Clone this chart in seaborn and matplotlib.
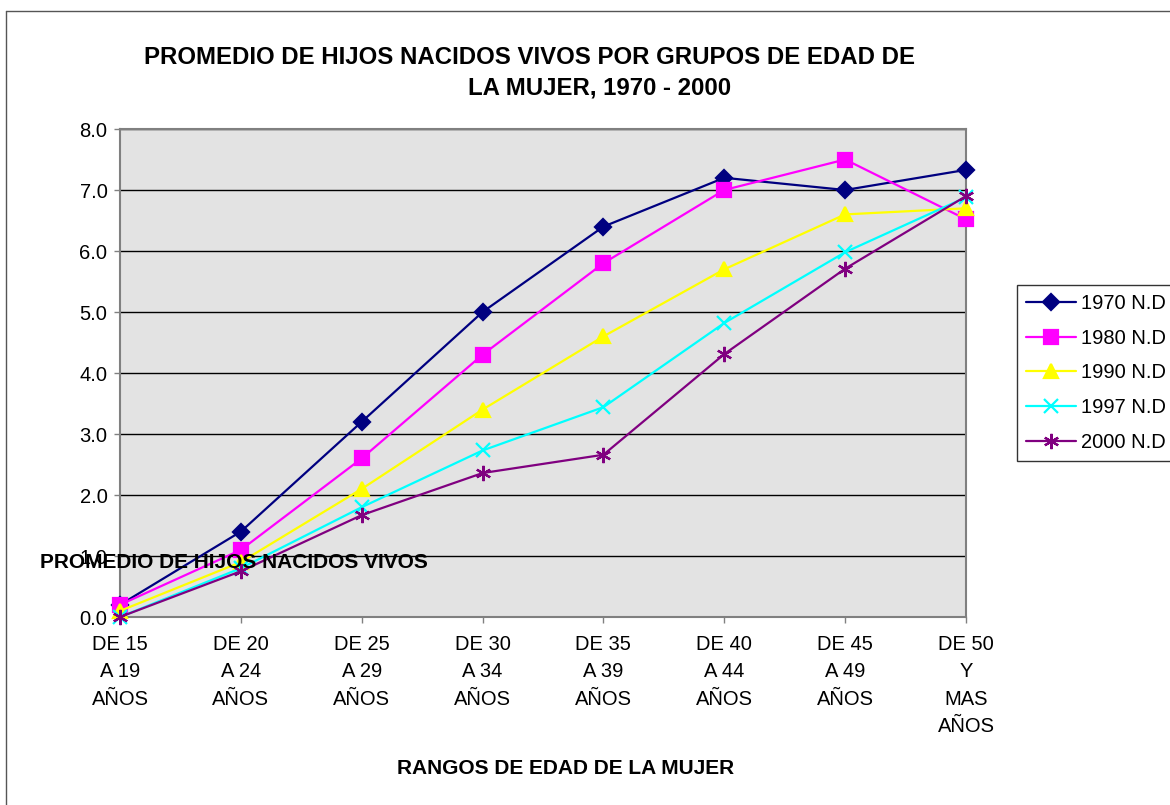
import matplotlib
matplotlib.use("Agg")
import matplotlib.pyplot as plt
import seaborn as sns
import pandas as pd
from matplotlib.lines import Line2D

# categorias (rangos de edad)
grupos = ["DE 15\nA 19\nAÑOS", "DE 20\nA 24\nAÑOS", "DE 25\nA 29\nAÑOS", "DE 30\nA 34\nAÑOS",
          "DE 35\nA 39\nAÑOS", "DE 40\nA 44\nAÑOS", "DE 45\nA 49\nAÑOS", "DE 50\nY\nMAS\nAÑOS"]

v1970 = [0.2, 1.4, 3.2, 5.0, 6.4, 7.2, 7.0, 7.33]
v1980 = [0.2, 1.1, 2.6, 4.3, 5.8, 7.0, 7.5, 6.52]
v1990 = [0.1, 0.9, 2.1, 3.4, 4.6, 5.7, 6.6, 6.7]
v1997 = [0.0, 0.8, 1.8, 2.73, 3.44, 4.82, 5.98, 6.88]
v2000 = [0.0, 0.75, 1.67, 2.36, 2.66, 4.31, 5.71, 6.9]

series = ["1970 N.D", "1980 N.D", "1990 N.D", "1997 N.D", "2000 N.D"]
valores = [v1970, v1980, v1990, v1997, v2000]
colores = ["#000080", "#FF00FF", "#FFFF00", "#00FFFF", "#800080"]
marcas = ["D", "s", "^", "x", (6, 2, 0)]
tamanos = [8, 10, 10, 10, 11]

sns.set_theme(style="white")
plt.rcParams['font.family'] = ['Liberation Sans', 'DejaVu Sans']
plt.rcParams['text.color'] = 'black'

fig = plt.figure(figsize=(11.7, 8.05), dpi=100)
ax = fig.add_axes([120 / 1170, 1 - 617 / 805, (966 - 120) / 1170, (617 - 129) / 805])
ax.set_facecolor("#E3E3E3")

for nombre, vals, col, m, ms in zip(series, valores, colores, marcas, tamanos):
    df = pd.DataFrame({"pos": range(len(grupos)), "valor": vals})
    sns.lineplot(data=df, x="pos", y="valor", ax=ax, color=col, marker=m, markersize=ms,
                 markeredgecolor=col, markerfacecolor=col, markeredgewidth=1.6,
                 linewidth=1.6, label=nombre, clip_on=False, zorder=3)

ax.set_xlim(0, len(grupos) - 1)
ax.set_ylim(0, 8)
ax.set_yticks(range(0, 9))
ax.set_yticklabels([f"{v:.1f}" for v in range(0, 9)])
ax.set_xticks(range(len(grupos)))
ax.set_xticklabels(grupos, linespacing=1.55)
ax.set_xlabel("")
ax.set_ylabel("")
ax.yaxis.grid(True, color="black", linewidth=1)
ax.set_axisbelow(True)
for s in ax.spines.values():
    s.set_color("#808080")
    s.set_linewidth(1.5)
ax.tick_params(axis="both", which="both", direction="out", length=4, width=1,
               color="#808080", labelsize=14.5, labelcolor="black")
ax.tick_params(axis="x", pad=9, bottom=True)
ax.tick_params(axis="y", pad=5, left=True)

h, l = ax.get_legend_handles_labels()
leg = ax.legend(h, l, loc="upper left", bbox_to_anchor=(1017 / 1170, 1 - 285 / 805),
                bbox_transform=fig.transFigure, frameon=True, fancybox=False,
                edgecolor="black", fontsize=14.5, handlelength=2.5, handletextpad=0.25,
                labelspacing=0.78, borderpad=0.45, borderaxespad=0)
leg.get_frame().set_linewidth(1)
for t in leg.get_texts():
    t.set_color("black")

fig.text(530 / 1170, 1 - 57 / 805, "PROMEDIO DE HIJOS NACIDOS VIVOS POR GRUPOS DE EDAD DE",
         ha="center", va="center", fontsize=17.3, fontweight="bold", color="black")
fig.text(600 / 1170, 1 - 88 / 805, "LA MUJER, 1970 - 2000",
         ha="center", va="center", fontsize=17.3, fontweight="bold", color="black")
fig.text(566 / 1170, 1 - 768 / 805, "RANGOS DE EDAD DE LA MUJER",
         ha="center", va="center", fontsize=15, fontweight="bold", color="black")
fig.text(40 / 1170, 1 - 562 / 805, "PROMEDIO DE HIJOS NACIDOS VIVOS",
         ha="left", va="center", fontsize=15, fontweight="bold", color="black", zorder=10)

# marco del grafico
fig.add_artist(Line2D([6 / 1170, 6 / 1170], [0, 1 - 11 / 805], color="#555555", linewidth=1))
fig.add_artist(Line2D([6 / 1170, 1], [1 - 11 / 805, 1 - 11 / 805], color="#555555", linewidth=1))

fig.savefig("out.png", dpi=100)
